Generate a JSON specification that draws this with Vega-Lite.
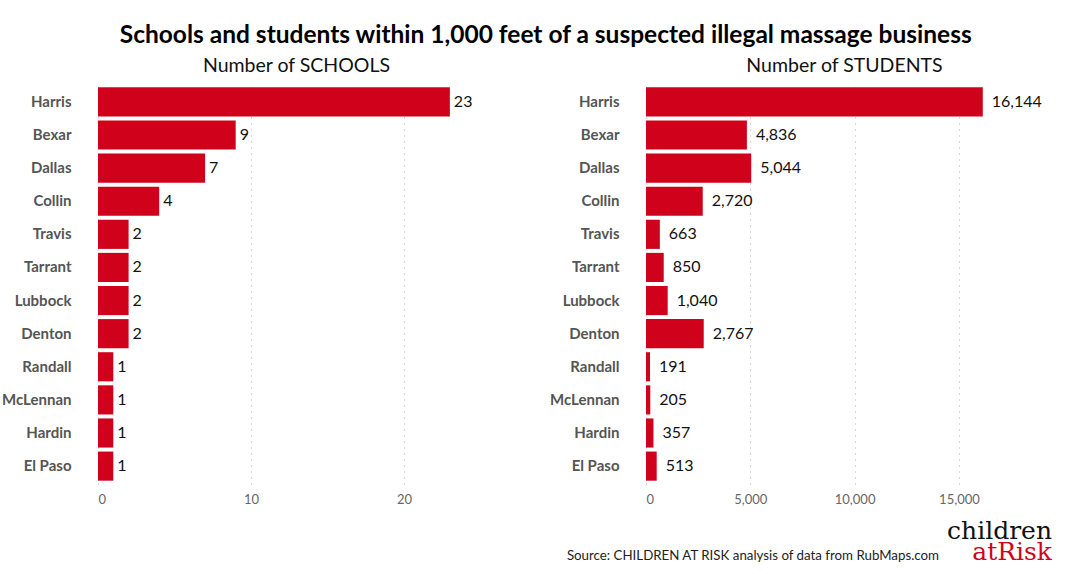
{
  "$schema": "https://vega.github.io/schema/vega-lite/v6.json",
  "background": "white",
  "padding": {"left": 1, "top": 23, "right": 5, "bottom": 5},
  "config": {
    "font": "Lato",
    "view": {"stroke": null},
    "title": {"font": "Lato"}
  },
  "datasets": {
    "counties": [
      {"county": "Harris", "schools": 23, "students": 16144},
      {"county": "Bexar", "schools": 9, "students": 4836},
      {"county": "Dallas", "schools": 7, "students": 5044},
      {"county": "Collin", "schools": 4, "students": 2720},
      {"county": "Travis", "schools": 2, "students": 663},
      {"county": "Tarrant", "schools": 2, "students": 850},
      {"county": "Lubbock", "schools": 2, "students": 1040},
      {"county": "Denton", "schools": 2, "students": 2767},
      {"county": "Randall", "schools": 1, "students": 191},
      {"county": "McLennan", "schools": 1, "students": 205},
      {"county": "Hardin", "schools": 1, "students": 357},
      {"county": "El Paso", "schools": 1, "students": 513}
    ],
    "logo": [
      {"line": 1, "word": "children"},
      {"line": 2, "word": "atRisk"}
    ],
    "source": [
      {"line": 2, "note": "Source: CHILDREN AT RISK analysis of data from RubMaps.com"}
    ]
  },
  "title": {
    "text": "Schools and students within 1,000 feet of a suspected illegal massage business",
    "fontSize": 24.5,
    "fontWeight": "bold",
    "color": "#000000",
    "anchor": "middle",
    "offset": 7,
    "dx": 19
  },
  "spacing": 13,
  "vconcat": [
    {
      "spacing": 54,
      "hconcat": [
        {
          "width": 397,
          "height": 400,
          "title": {"text": "Number of SCHOOLS", "fontSize": 19.5, "fontWeight": "normal", "color": "#111111", "frame": "group", "anchor": "middle", "offset": 8},
          "data": {"name": "counties"},
          "encoding": {
            "y": {
              "field": "county", "type": "nominal", "sort": null,
              "scale": {"paddingInner": 0.12, "paddingOuter": 0.1},
              "axis": {"title": null, "ticks": false, "domain": false, "labelPadding": 27, "labelFontSize": 15, "labelFontWeight": "bold", "labelColor": "#555555"}
            },
            "x": {
              "field": "schools", "type": "quantitative",
              "scale": {"domain": [0, 25.95], "nice": false},
              "axis": {"title": null, "values": [0, 10, 20], "grid": true, "gridDash": [1, 5], "gridColor": "#b0b0b0", "domain": false, "ticks": false, "labelFontSize": 13, "labelColor": "#666666", "labelPadding": 9}
            }
          },
          "layer": [
            {"mark": {"type": "bar", "color": "#d0021b"}},
            {
              "mark": {"type": "text", "align": "left", "baseline": "middle", "dx": 4, "fontSize": 16, "color": "#111111"},
              "encoding": {"text": {"field": "schools", "type": "quantitative", "format": ","}}
            }
          ]
        },
        {
          "width": 397,
          "height": 400,
          "title": {"text": "Number of STUDENTS", "fontSize": 19.5, "fontWeight": "normal", "color": "#111111", "frame": "group", "anchor": "middle", "offset": 8},
          "data": {"name": "counties"},
          "encoding": {
            "y": {
              "field": "county", "type": "nominal", "sort": null,
              "scale": {"paddingInner": 0.12, "paddingOuter": 0.1},
              "axis": {"title": null, "ticks": false, "domain": false, "labelPadding": 27, "labelFontSize": 15, "labelFontWeight": "bold", "labelColor": "#555555"}
            },
            "x": {
              "field": "students", "type": "quantitative",
              "scale": {"domain": [0, 19030], "nice": false},
              "axis": {"title": null, "values": [0, 5000, 10000, 15000], "labelExpr": "format(datum.value, ',')", "grid": true, "gridDash": [1, 5], "gridColor": "#b0b0b0", "domain": false, "ticks": false, "labelFontSize": 13, "labelColor": "#666666", "labelPadding": 9}
            }
          },
          "layer": [
            {"mark": {"type": "bar", "color": "#d0021b"}},
            {
              "mark": {"type": "text", "align": "left", "baseline": "middle", "dx": 9, "fontSize": 16, "color": "#111111"},
              "encoding": {"text": {"field": "students", "type": "quantitative", "format": ","}}
            }
          ]
        }
      ]
    },
    {
      "width": 954,
      "height": 41,
      "encoding": {
        "y": {"field": "line", "type": "ordinal", "axis": null, "scale": {"paddingInner": 0, "paddingOuter": 0}, "bandPosition": 1},
        "x": {"datum": 1, "type": "quantitative", "axis": null, "scale": {"domain": [0, 1], "nice": false}}
      },
      "layer": [
        {
          "data": {"name": "logo"},
          "mark": {"type": "text", "align": "right", "baseline": "alphabetic", "font": "DejaVu Serif", "fontSize": 25},
          "encoding": {
            "text": {"field": "word"},
            "color": {"field": "word", "type": "nominal", "legend": null, "scale": {"domain": ["children", "atRisk"], "range": ["#111111", "#d0021b"]}}
          }
        },
        {
          "data": {"name": "source"},
          "mark": {"type": "text", "align": "right", "baseline": "alphabetic", "dx": -113, "font": "Lato", "fontSize": 13.3, "color": "#222222"},
          "encoding": {"text": {"field": "note"}}
        }
      ]
    }
  ]
}
